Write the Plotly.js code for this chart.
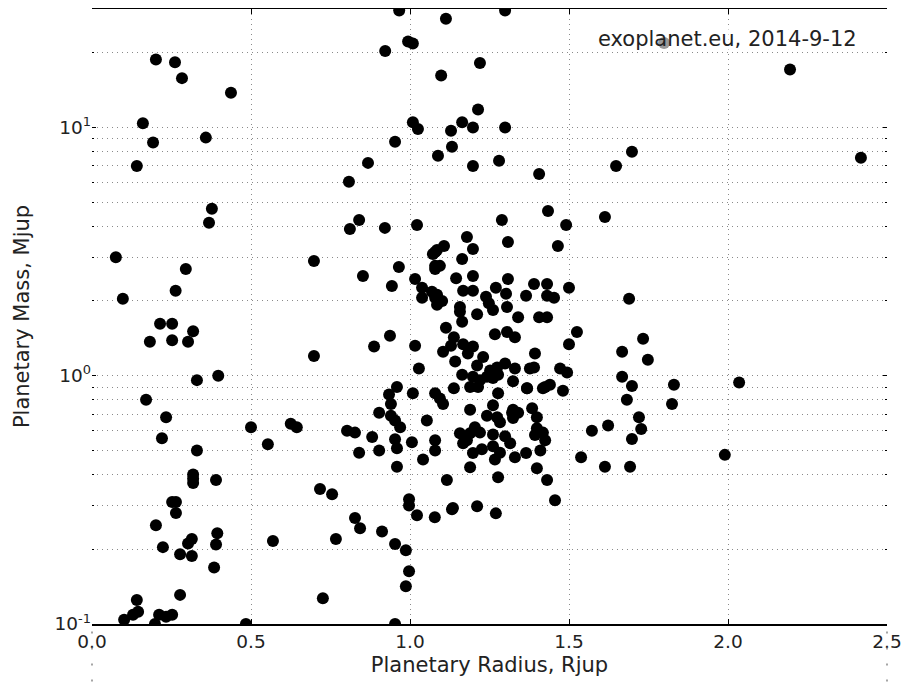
<!DOCTYPE html>
<html>
<head>
<meta charset="utf-8">
<script src="https://cdn.plot.ly/plotly-3.0.1.min.js"></script>
<style>html,body{margin:0;padding:0;background:#fff;}#chart{width:904px;height:698px;}</style>
</head>
<body>
<div id="chart"></div>
<script>
// Planetary radius (Rjup)
const radius = [
  0.201,0.261,0.283,0.437,0.160,0.358,0.192,0.141,0.377,0.368,
  0.075,0.097,0.295,0.263,0.214,0.252,0.318,0.182,0.252,0.302,0.397,0.330,0.170,0.233,0.500,0.220,0.553,0.330,
  0.318,0.318,0.318,0.390,0.252,0.264,0.264,0.201,0.223,0.277,0.302,0.314,0.314,0.394,0.390,0.384,0.569,0.277,0.141,0.145,0.129,0.101,0.211,0.252,0.233,0.198,0.484,
  0.625,0.644,0.698,0.698,0.717,0.755,0.767,0.726,
  0.802,0.827,0.881,0.840,0.903,0.903,0.934,0.959,0.940,0.940,0.953,0.969,0.953,0.959,0.887,0.937,0.852,0.943,0.965,0.811,0.921,0.840,0.808,0.868,0.953,0.922,0.966,
  0.827,0.843,0.912,0.953,0.987,0.997,0.987,0.953,0.959,
  0.997,0.997,1.022,1.078,1.041,1.006,1.009,1.053,1.079,1.094,1.104,1.079,1.079,1.028,1.016,1.038,1.038,1.016,1.022,0.994,1.009,1.009,1.025,1.088,1.098,1.113,
  1.069,1.085,1.079,1.101,1.085,
  1.079,1.107,1.085,1.072,1.079,1.094,1.079,
  1.113,1.104,1.129,1.138,1.142,1.116,1.132,
  1.157,1.157,1.164,1.145,1.167,1.164,1.179,1.198,1.198,1.198,1.211,1.248,1.261,1.239,1.270,1.302,1.305,1.308,1.308,1.289,1.280,1.299,1.299,1.198,1.164,1.129,1.132,1.198,1.214,1.220,
  1.167,1.198,1.182,1.230,1.211,1.164,1.252,1.274,1.299,1.330,1.198,1.220,1.242,1.261,1.277,1.189,1.214,1.324,1.277,1.368,1.418,1.440,1.481,1.138,
  1.189,1.261,1.242,1.274,1.324,1.340,1.384,1.399,1.321,1.324,1.283,
  1.157,1.179,1.167,1.189,1.204,1.220,
  1.261,1.299,1.315,1.261,1.283,1.267,1.198,1.226,1.189,1.277,1.330,1.365,
  1.270,1.211,1.135,
  1.399,1.431,1.456,1.393,1.418,1.399,1.425,1.410,
  1.340,1.406,1.431,1.390,1.431,1.500,1.365,1.431,1.453,1.465,1.491,1.406,1.434,
  1.267,1.305,1.330,1.525,1.500,1.393,1.390,1.377,1.472,1.494,1.425,1.368,
  1.572,1.538,1.613,1.692,1.623,
  1.689,1.733,1.667,1.748,1.667,1.698,1.830,2.035,1.682,1.824,1.720,1.727,1.698,1.990,1.613,1.648,1.698,1.799,2.195,2.418
];
// Planetary mass (Mjup)
const mass = [
  18.8,18.3,15.8,13.8,10.4,9.1,8.7,7.0,4.70,4.13,
  3.0,2.04,2.69,2.20,1.62,1.62,1.51,1.37,1.39,1.37,1.0,0.96,0.80,0.68,0.62,0.56,0.53,0.50,
  0.40,0.385,0.37,0.38,0.31,0.31,0.28,0.25,0.204,0.191,0.211,0.22,0.188,0.232,0.209,0.169,0.216,0.131,0.125,0.112,0.109,0.104,0.109,0.109,0.107,0.100,0.100,
  0.64,0.62,2.90,1.20,0.35,0.333,0.22,0.127,
  0.60,0.59,0.566,0.49,0.50,0.71,0.84,0.90,0.77,0.69,0.66,0.62,0.555,0.51,1.31,1.45,2.52,2.30,2.74,3.90,3.94,4.24,6.04,7.2,8.75,20.3,29.6,
  0.267,0.243,0.236,0.21,0.198,0.163,0.142,0.100,0.43,
  0.318,0.30,0.274,0.269,0.46,0.54,0.85,0.66,0.85,0.81,0.77,0.55,0.50,1.07,1.32,2.26,2.06,2.45,4.05,22.2,21.8,10.5,9.86,7.69,16.2,27.4,
  2.18,2.12,2.06,2.0,1.93,
  3.15,3.33,3.21,3.09,2.77,2.77,2.69,
  1.56,1.25,1.32,1.43,1.14,0.38,0.29,
  1.89,1.81,1.65,2.47,2.20,2.95,3.62,3.24,2.52,2.20,1.77,1.96,1.84,2.08,2.26,2.14,1.89,2.45,3.46,4.24,7.34,10.0,29.6,10.0,10.5,9.7,8.36,7.0,11.8,18.2,
  1.34,1.31,1.23,1.19,1.10,1.01,1.05,1.08,1.12,1.07,0.99,0.96,0.99,0.98,1.01,0.90,0.90,0.95,0.85,0.89,0.89,0.92,0.87,0.89,
  0.73,0.76,0.69,0.68,0.73,0.71,0.74,0.68,0.71,0.675,0.65,
  0.587,0.55,0.535,0.587,0.62,0.59,
  0.58,0.57,0.535,0.52,0.49,0.46,0.488,0.506,0.428,0.39,0.47,0.488,
  0.279,0.298,0.293,
  0.424,0.38,0.315,0.577,0.59,0.615,0.55,0.50,
  1.72,1.72,1.72,2.34,2.34,2.26,2.10,2.10,2.06,3.33,4.05,6.5,4.61,
  1.47,1.50,1.43,1.50,1.34,1.23,1.08,1.07,1.07,1.03,0.90,0.89,
  0.60,0.47,0.43,0.43,0.63,
  2.04,1.41,1.25,1.16,0.99,0.91,0.92,0.94,0.80,0.77,0.68,0.61,0.556,0.48,4.36,7.0,7.98,21.9,17.1,7.55
];
const xTickVals = [0, 0.5, 1.0, 1.5, 2.0, 2.5];
const xTickText = ['0.0', '0.5', '1.0', '1.5', '2.0', '2.5'];
const yTickVals = [0.1, 1, 10];
const yTickText = ['10<sup>-1</sup>', '10<sup>0</sup>', '10<sup>1</sup>'];
const yMinorVals = [0.2,0.3,0.4,0.5,0.6,0.7,0.8,0.9,2,3,4,5,6,7,8,9,20,30];

const font = 'DejaVu Sans, sans-serif';
const gridDash = '1px,4px';
const gridColor = '#8a8a8a';

const trace = {
  type: 'scatter', mode: 'markers',
  x: radius, y: mass,
  marker: {color: '#000', size: 12, line: {width: 0}},
  cliponaxis: true, hoverinfo: 'skip'
};

const layout = {
  width: 904, height: 698,
  margin: {l: 92, r: 17, t: 9, b: 74},
  paper_bgcolor: '#fff', plot_bgcolor: '#fff',
  showlegend: false,
  font: {family: font, size: 18, color: '#222'},
  xaxis: {
    range: [0, 2.5], tickvals: xTickVals, ticktext: xTickText,
    showline: true, linecolor: '#000', linewidth: 1.5, mirror: 'ticks',
    ticks: 'inside', ticklen: 5, tickcolor: '#000', tickwidth: 1,
    showgrid: true, gridcolor: gridColor, gridwidth: 1, griddash: gridDash,
    zeroline: false,
    tickfont: {family: font, size: 18.5, color: '#222'},
    title: {text: 'Planetary Radius, Rjup', font: {family: font, size: 21, color: '#222'}, standoff: 6}
  },
  yaxis: {
    type: 'log', range: [-1, Math.log10(30)],
    tickvals: yTickVals, ticktext: yTickText,
    showline: false, mirror: 'ticks',
    ticks: 'inside', ticklen: 4, tickcolor: '#000', tickwidth: 1,
    showgrid: true, gridcolor: gridColor, gridwidth: 1, griddash: gridDash,
    zeroline: false,
    tickfont: {family: font, size: 18.5, color: '#222'},
    minor: {tickvals: yMinorVals, ticks: 'inside', ticklen: 2, tickcolor: '#000',
            showgrid: true, gridcolor: gridColor, gridwidth: 1, griddash: gridDash},
    title: {text: 'Planetary Mass, Mjup', font: {family: font, size: 21, color: '#222'}, standoff: 19}
  },
  annotations: [{
    xref: 'paper', yref: 'paper', x: 0.963, y: 0.952,
    xanchor: 'right', yanchor: 'middle', showarrow: false,
    text: 'exoplanet.eu, 2014-9-12',
    font: {family: font, size: 21, color: '#222'},
    bgcolor: 'rgba(255,255,255,0.6)', borderpad: 0
  }],
  shapes: [
    {type: 'line', xref: 'paper', yref: 'paper', x0: 0, x1: 0, y0: -0.012, y1: -0.095, layer: 'above',
     line: {color: '#888', width: 1.5, dash: '2px,14px'}},
    {type: 'line', xref: 'paper', yref: 'paper', x0: 1, x1: 1, y0: -0.012, y1: -0.095, layer: 'above',
     line: {color: '#888', width: 1.5, dash: '2px,14px'}}
  ]
};

Plotly.newPlot('chart', [trace], layout, {staticPlot: true, displayModeBar: false});
</script>
</body>
</html>
